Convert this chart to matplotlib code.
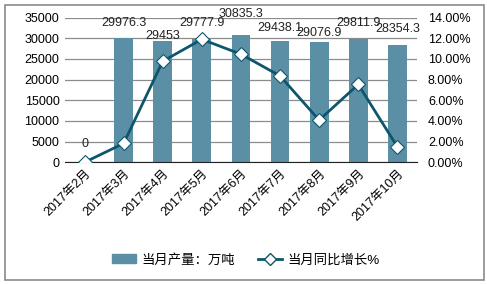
import matplotlib
matplotlib.use("Agg")
import matplotlib.pyplot as plt
from matplotlib.patches import Rectangle
from matplotlib.ticker import FuncFormatter

plt.rcParams['font.family'] = ['Liberation Sans', 'Noto Sans CJK SC', 'DejaVu Sans']

months = ['2017年2月', '2017年3月', '2017年4月', '2017年5月', '2017年6月',
          '2017年7月', '2017年8月', '2017年9月', '2017年10月']
output = [0, 29976.3, 29453, 29777.9, 30835.3, 29438.1, 29076.9, 29811.9, 28354.3]
growth = [0.0, 1.83, 9.78, 11.9, 10.46, 8.36, 4.08, 7.53, 1.51]
label_texts = ['0', '29976.3', '29453', '29777.9', '30835.3', '29438.1', '29076.9', '29811.9', '28354.3']

# vertical shift of each value label (points), staggered like the original
label_dy = [9, 7, -1, 7, 11, 5, 2, 7, 7]

bar_color = '#5b8fa6'
line_color = '#0d566b'
fs = 9

fig = plt.figure(figsize=(4.87, 2.84), dpi=100)
ax = fig.add_axes([0.1335, 0.4285, 0.7225, 0.5095])
x = list(range(len(months)))

ax.bar(x, output, width=0.48, color=bar_color, zorder=2)
ax.set_xlim(-0.5, len(months) - 0.5)
ax.set_ylim(0, 35000)
ax.set_yticks(range(0, 35001, 5000))
ax.grid(axis='y', color='#8c8c8c', linewidth=0.9, zorder=0)
for s in ['top', 'left', 'right']:
    ax.spines[s].set_visible(False)
ax.spines['bottom'].set_color('#222222')
ax.tick_params(length=0, labelsize=fs, pad=4)
ax.set_xticks(x)
ax.set_xticklabels(months, rotation=45, ha='right', rotation_mode='anchor')

for i, v in enumerate(output):
    ax.annotate(label_texts[i], (i, v), xytext=(0, label_dy[i]), textcoords='offset points',
                ha='center', va='bottom', fontsize=fs, color='#222222', zorder=5)

ax2 = ax.twinx()
ax2.plot(x, growth, color=line_color, linewidth=2, marker='D', markersize=7,
         markerfacecolor='white', markeredgecolor=line_color, markeredgewidth=0.8, zorder=4)
ax2.set_ylim(0, 14)
ax2.set_yticks(range(0, 15, 2))
ax2.yaxis.set_major_formatter(FuncFormatter(lambda v, p: '%.2f%%' % v))
for s in ['top', 'left', 'right', 'bottom']:
    ax2.spines[s].set_visible(False)
ax2.tick_params(length=0, labelsize=fs, pad=8)

handles = [Rectangle((0, 0), 1, 1, color=bar_color),
           plt.Line2D([], [], color=line_color, linewidth=2, marker='D', markersize=6,
                      markerfacecolor='white', markeredgecolor=line_color)]
fig.legend(handles, ['当月产量：万吨', '当月同比增长%'], loc='center', bbox_to_anchor=(0.505, 0.085),
           ncol=2, frameon=False, fontsize=9.6, handlelength=1.8, columnspacing=1.7, handletextpad=0.4)

fig.patches.append(Rectangle((5 / 487, 4 / 284), 479 / 487, 275 / 284, transform=fig.transFigure,
                             fill=False, edgecolor='#8a8a8a', linewidth=1.2))

fig.savefig('out.png', dpi=100)
